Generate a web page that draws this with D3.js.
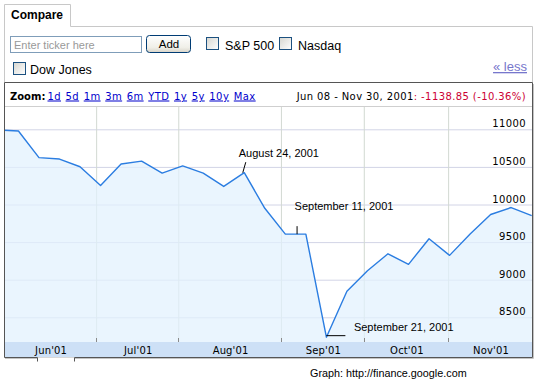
<!DOCTYPE html>
<html>
<head>
<meta charset="utf-8" />
<style>
  body { margin: 0; background: #fff; }
  svg { display: block; }
  .ui { font-family: Arial, "Liberation Sans", sans-serif; }
  .px { font-family: Verdana, "DejaVu Sans", sans-serif; font-size: 10px; letter-spacing: 0.4px; }
  .month { letter-spacing: 0.15px; }
  .y-grid line { stroke: #d2d4e6; }
  .x-grid line { stroke: #d2d9d2; }
  .domain { display: none; }
  .note { font-family: Arial, "Liberation Sans", sans-serif; font-size: 11px; fill: #000; }
</style>
</head>
<body>
<svg width="557" height="385"></svg>
<script src="https://d3js.org/d3.v7.min.js"></script>
<script>
// weekly Friday closes of the Dow Jones, Jun 1 - Nov 30 2001
let weeks = [
  "2001-06-01", "2001-06-08", "2001-06-15", "2001-06-22", "2001-06-29",
  "2001-07-06", "2001-07-13", "2001-07-20", "2001-07-27",
  "2001-08-03", "2001-08-10", "2001-08-17", "2001-08-24", "2001-08-31",
  "2001-09-07", "2001-09-14", "2001-09-21", "2001-09-28",
  "2001-10-05", "2001-10-12", "2001-10-19", "2001-10-26",
  "2001-11-02", "2001-11-09", "2001-11-16", "2001-11-23", "2001-11-30"
];
let closes = [
  10990.41, 10977.00, 10623.64, 10604.59, 10502.40,
  10252.68, 10539.06, 10576.65, 10416.67,
  10512.78, 10416.25, 10240.14, 10423.17, 9949.75,
  9605.85, 9605.51, 8235.81, 8847.56,
  9119.77, 9344.16, 9204.11, 9545.17,
  9323.54, 9608.00, 9866.99, 9959.71, 9851.56
];
let yTicks = [8500, 9000, 9500, 10000, 10500, 11000];
let monthGrid = ["2001-07-04 12", "2001-08-01 12", "2001-09-05 12", "2001-10-03 18", "2001-11-01 12"];
let monthLabels = ["Jun'01", "Jul'01", "Aug'01", "Sep'01", "Oct'01", "Nov'01"];
let zoomLinks = ["1d", "5d", "1m", "3m", "6m", "YTD", "1y", "5y", "10y", "Max"];
let notes = [
  { date: "2001-08-24", text: "August 24, 2001" },
  { date: "2001-09-11", text: "September 11, 2001" },
  { date: "2001-09-21", text: "September 21, 2001" }
];

let svg = d3.select("svg");
let parse = d3.timeParse("%Y-%m-%d");
let parseHour = d3.timeParse("%Y-%m-%d %H");

let data = weeks.map((w, i) => ({ date: parse(w), close: closes[i] }));

let plot = { left: 4, right: 532, top: 107, bottom: 342 };

let x = d3.scaleTime()
  .domain(d3.extent(data, (d) => d.date))
  .range([-2.1, 531.7]);

let y = d3.scaleLinear().domain([8500, 11000]).range([317.3, 129.3]);

// ---------- compare panel ----------
let defs = svg.append("defs");
let btnGrad = defs.append("linearGradient").attr("id", "btn").attr("x1", 0).attr("y1", 0).attr("x2", 0).attr("y2", 1);
btnGrad.append("stop").attr("offset", "0%").attr("stop-color", "#ffffff");
btnGrad.append("stop").attr("offset", "70%").attr("stop-color", "#f0efe8");
btnGrad.append("stop").attr("offset", "100%").attr("stop-color", "#d8d4c8");
let boxGrad = defs.append("linearGradient").attr("id", "cb").attr("x1", 0).attr("y1", 0).attr("x2", 1).attr("y2", 1);
boxGrad.append("stop").attr("offset", "0%").attr("stop-color", "#d6d6d0");
boxGrad.append("stop").attr("offset", "100%").attr("stop-color", "#ffffff");

svg.append("path")
  .attr("d", "M4.5,82 V4.5 H70.5 V26.5 H532.5 V82")
  .attr("fill", "none").attr("stroke", "#c8c8c8");

svg.append("text").attr("class", "ui").attr("x", 11).attr("y", 19)
  .attr("font-size", 12).attr("font-weight", "bold").text("Compare");

svg.append("rect").attr("x", 10.5).attr("y", 36.5).attr("width", 131).attr("height", 16)
  .attr("fill", "#fff").attr("stroke", "#7f9db9");
svg.append("text").attr("class", "ui").attr("x", 14).attr("y", 48.5)
  .attr("font-size", 11).attr("fill", "#999").text("Enter ticker here");

svg.append("rect").attr("x", 146.5).attr("y", 35.5).attr("width", 44).attr("height", 17).attr("rx", 3)
  .attr("fill", "url(#btn)").attr("stroke", "#003c74");
svg.append("text").attr("class", "ui").attr("x", 169).attr("y", 47.7)
  .attr("text-anchor", "middle").attr("font-size", 11.5).text("Add");

let checks = [
  { bx: 206.5, by: 37.5, tx: 225, ty: 49.5, text: "S&P 500" },
  { bx: 279.5, by: 37.5, tx: 298, ty: 49.5, text: "Nasdaq" },
  { bx: 13.5, by: 62.5, tx: 30, ty: 73.5, text: "Dow Jones" }
];
for (let c of checks) {
  svg.append("rect").attr("x", c.bx).attr("y", c.by).attr("width", 12).attr("height", 12)
    .attr("fill", "url(#cb)").attr("stroke", "#1c5180");
  svg.append("text").attr("class", "ui").attr("x", c.tx).attr("y", c.ty)
    .attr("font-size", 12.5).text(c.text);
}

svg.append("text").attr("class", "ui").attr("x", 527).attr("y", 71)
  .attr("text-anchor", "end").attr("font-size", 13).attr("fill", "#7777cc")
  .attr("text-decoration", "underline").text("\u00ab less");

// ---------- chart header ----------
svg.append("line").attr("x1", 4).attr("x2", 532).attr("y1", plot.top - 0.5).attr("y2", plot.top - 0.5)
  .attr("stroke", "#cfcfcf");

svg.append("text").attr("class", "px").attr("x", 10).attr("y", 99.5)
  .attr("font-weight", "bold").style("letter-spacing", "0px").text("Zoom:");

let zx = 47.5;
for (let z of zoomLinks) {
  let t = svg.append("text").attr("class", "px").attr("x", zx).attr("y", 99.5)
    .attr("fill", "#0000cc").attr("text-decoration", "underline").text(z);
  zx += t.node().getComputedTextLength() + 4.6;
}

let head = svg.append("text").attr("class", "px").attr("x", 526).attr("y", 99.5)
  .attr("text-anchor", "end");
head.append("tspan").text("Jun 08 - Nov 30, 2001");
head.append("tspan").attr("fill", "#cc0033").text(": -1138.85 (-10.36%)");

// ---------- plot ----------
defs.append("clipPath").attr("id", "clip").append("rect")
  .attr("x", plot.left).attr("y", plot.top)
  .attr("width", plot.right - plot.left).attr("height", plot.bottom - plot.top);

let gridDates = monthGrid.map(parseHour);

svg.append("g").attr("class", "y-grid")
  .attr("transform", `translate(${plot.right},0)`)
  .call(d3.axisLeft(y).tickValues(yTicks).tickSize(plot.right - plot.left - 1).tickFormat(""));

svg.append("g").attr("class", "x-grid")
  .attr("transform", `translate(0,${plot.bottom})`)
  .call(d3.axisBottom(x).tickValues(gridDates).tickSize(-(plot.bottom - plot.top)).tickFormat(""));

let area = d3.area()
  .x((d) => x(d.date))
  .y0(plot.bottom)
  .y1((d) => y(d.close));

let line = d3.line()
  .x((d) => x(d.date))
  .y((d) => y(d.close));

let graph = svg.append("g").attr("clip-path", "url(#clip)");

graph.append("path").datum(data)
  .attr("d", area)
  .attr("fill", "rgba(226,241,254,0.72)");

graph.append("path").datum(data)
  .attr("d", line)
  .attr("fill", "none")
  .attr("stroke", "#2b7de1")
  .attr("stroke-width", 1.4)
  .attr("stroke-linejoin", "round");

// little dark ticks at the foot of the month lines
svg.append("g").selectAll("line").data(gridDates).join("line")
  .attr("x1", (d) => Math.round(x(d)) + 0.5).attr("x2", (d) => Math.round(x(d)) + 0.5)
  .attr("y1", plot.bottom - 4).attr("y2", plot.bottom)
  .attr("stroke", "#8a8a8a");

// y labels
svg.append("g").attr("class", "px")
  .selectAll("text").data(yTicks).join("text")
  .attr("x", 526).attr("y", (d) => y(d) - 2)
  .attr("text-anchor", "end")
  .text((d) => d);

// annotations
let bisect = d3.bisector((d) => d.date).left;
function valueAt(date) {
  let i = bisect(data, date);
  let a = data[Math.max(i - 1, 0)];
  let b = data[i];
  if (+b.date === +date) return b.close;
  let t = (date - a.date) / (b.date - a.date);
  return a.close + (b.close - a.close) * t;
}

notes.forEach((n, i) => {
  let d = parse(n.date);
  let px = x(d);
  let py = y(valueAt(d));
  let g = svg.append("g");
  if (i === 0) {
    g.append("line").attr("x1", px - 1.5).attr("y1", py).attr("x2", px + 1.5).attr("y2", py - 10.5).attr("stroke", "#000");
    g.append("text").attr("class", "note").attr("x", px - 5.5).attr("y", py - 16).text(n.text);
  } else if (i === 1) {
    g.append("line").attr("x1", px).attr("y1", py).attr("x2", px).attr("y2", py - 8).attr("stroke", "#000");
    g.append("text").attr("class", "note").attr("x", px - 2.5).attr("y", py - 24.5).text(n.text);
  } else {
    g.append("line").attr("x1", px).attr("y1", py - 1.5).attr("x2", px + 19).attr("y2", py - 1.5).attr("stroke", "#000");
    g.append("text").attr("class", "note").attr("x", px + 27.5).attr("y", py - 6.5).text(n.text);
  }
});

// month band
svg.append("rect").attr("x", plot.left).attr("y", plot.bottom)
  .attr("width", plot.right - plot.left).attr("height", 15)
  .attr("fill", "#cde0f6");

let edges = [plot.left].concat(gridDates.map((d) => x(d)), [plot.right]);
svg.append("g").attr("class", "px month")
  .selectAll("text").data(monthLabels).join("text")
  .attr("x", (d, i) => (edges[i] + edges[i + 1]) / 2 + 1)
  .attr("y", 354)
  .attr("text-anchor", "middle")
  .text((d) => d);

// chart box border
svg.append("path")
  .attr("d", "M4.5,357.5 V82.5 H532.5 V357.5 H74.5 M37.5,357.5 H4.5")
  .attr("fill", "none").attr("stroke", "#555");
svg.append("path")
  .attr("d", "M533.5,84 V358.5 H75 M37,358.5 H5")
  .attr("fill", "none").attr("stroke", "#c4c4c4");
svg.append("path")
  .attr("d", "M37.5,357.5 V361.5 M74.5,357.5 V361.5")
  .attr("fill", "none").attr("stroke", "#555");
svg.append("line").attr("x1", 38).attr("x2", 74).attr("y1", 357.5).attr("y2", 357.5)
  .attr("stroke", "#d8d8d8");

svg.append("text").attr("class", "ui").attr("x", 310).attr("y", 377)
  .attr("font-size", 10.8).text("Graph: http://finance.google.com");
</script>
</body>
</html>
